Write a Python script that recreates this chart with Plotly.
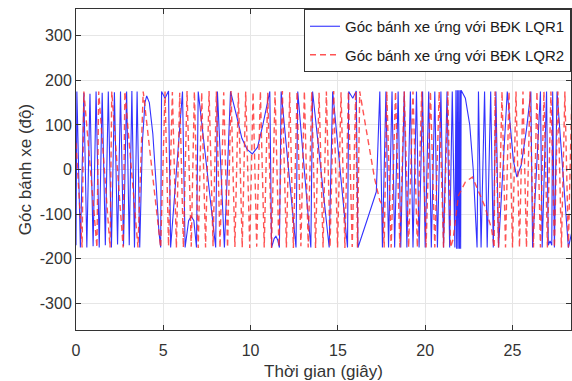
import plotly.graph_objects as go

# ---------------- data ----------------
t_lqr1 = [0.0, 0.05, 0.25, 0.45, 0.62, 0.8, 0.98, 1.15, 1.33, 1.5, 1.68, 1.85, 2.03, 2.2,
          2.38, 2.55, 2.72, 2.9, 3.05, 3.2, 3.35, 3.5, 3.65,
          3.8, 3.95, 4.05, 4.2, 4.4, 4.6, 4.75, 4.85,
          4.9, 5.1, 5.3, 5.42, 6.1, 6.25, 6.45, 6.6, 6.75, 6.9, 7.0, 8.0, 8.1, 8.5,
          8.85, 9.2, 9.5, 9.8, 10.1, 10.4, 10.7, 11.1, 11.2, 11.35, 11.45, 11.55, 11.65,
          11.75, 12.6, 12.7, 13.45, 13.55, 14.5, 14.7, 15.55, 15.62, 15.85, 16.05, 16.15,
          16.7, 17.2, 17.4, 17.55, 17.75, 17.9, 18.1, 18.25, 18.45, 18.6, 18.8, 18.95,
          19.15, 19.3, 19.5, 19.65, 19.85, 20.0, 20.2, 20.35, 20.55, 20.7, 20.9, 21.05,
          21.25, 21.4, 21.55, 21.7, 21.76, 21.8, 21.84, 21.88, 21.92, 21.96, 22.0, 22.03,
          22.06, 22.3, 22.55, 22.75, 22.9, 22.97, 23.05, 23.2, 23.4, 23.55, 23.75, 23.9,
          24.05, 24.2, 24.7, 24.9, 25.05, 25.25, 25.5, 25.8, 26.05, 26.15, 26.6, 26.7,
          26.95, 27.05, 27.15, 27.25, 27.3, 27.4, 27.55, 28.2, 28.4]
goc_lqr1 = [-170, 175, -175, 172, -175, 170, -172, 175, -175, 172, -170, 175, -175, 173,
            -168, 175, -172, 175, -170, 176, -175, 175, -175,
            60, 150, 165, 150, 80, -40, -140, -175,
            175, 160, 176, -175, 175, -175, -115, -105, -115, -175, 175, -175, 175, -175,
            175, 120, 70, 45, 35, 50, 100, 175, -175, -155, -150, -158, -175,
            175, -175, 175, -175, 175, -175, 175, -175, 175, 160, 176, -175,
            -110, -50, 175, -175, 175, -175, 175, -175, 175, -175, 175, -175,
            175, -175, 175, -175, 175, -175, 175, -175, 175, -175, 175, -175,
            175, -175, 175, -175, 178, -178, 178, -178, 178, -178, 178, -178,
            178, 160, 100, 0, -120, -175, 175, -175, 175, -175, 175, -175,
            175, -175, 175, 90, 20, -17, 10, 90, 175, -175, 175, -175,
            175, -170, -160, -170, 175, -175, 175, -175, -140]

t_lqr2 = [0.0, 0.35, 0.45, 1.2, 1.3, 1.95, 2.05, 2.7, 2.8, 3.55, 3.85, 4.85,
          5.1, 5.3, 5.52, 5.75, 5.94, 6.15, 6.36, 6.6, 6.78, 7.0, 7.2, 7.42, 7.62, 7.85,
          8.04, 8.25, 8.46, 8.68, 8.88, 9.1, 9.3, 9.52, 9.72, 9.95, 10.14, 10.35, 10.56,
          10.78, 10.98, 11.2, 11.4, 11.62, 11.82, 12.05, 12.24, 12.45, 12.66, 12.88,
          13.08, 13.3, 13.5, 13.72, 13.92, 14.15, 14.34, 14.55, 14.76, 14.98, 15.18,
          15.4, 15.6, 15.82, 16.02, 16.12, 16.25,
          16.7, 17.1, 17.4, 17.55, 17.65, 17.8, 18.05, 18.3, 18.55, 18.8, 19.05, 19.3,
          19.55, 19.8, 20.05, 20.3, 20.55, 20.8, 21.05, 21.3, 21.45,
          21.6, 21.9, 22.3, 22.7, 23.0, 23.4, 23.8, 23.95, 24.0,
          24.2, 24.4, 24.6, 24.8, 25.0, 25.2, 25.4, 25.6, 25.8, 26.0, 26.2, 26.4, 26.6,
          26.8, 27.0, 27.2, 27.4, 27.6, 27.8, 28.0, 28.2, 28.4]
goc_lqr2 = [60, -175, 175, -175, 175, -175, 175, -175, 175, -175, 175, -175,
            175, -172, 174, -176, 172, -175, 176, -173, 175, -176, 173, -175, 176, -172,
            175, -176, 173, -175, 176, -174, 172, -175, 175, -176, 174, -173, 176,
            -175, 172, -176, 175, -174, 176, -175, 173, -176, 175, -172,
            176, -175, 174, -176, 172, -175, 175, -174, 176, -175, 173,
            -176, 175, -174, 176, -175, 175,
            70, -20, -70, -80, -175, 175, -175, 175, -175, 175, -175, 175,
            -175, 175, -175, 175, -175, 175, -175, 175, -175,
            -156, -59, -28, -17, -43, -81, -133, -175, 175,
            -175, 175, -175, 175, -175, 175, -175, 175, -175, 175, -175, 175, -175,
            175, -175, 175, -175, 175, -175, 175, -175, 175]

x_ticks = [0, 5, 10, 15, 20, 25]
x_tick_text = ["0", "5", "10", "15", "20", "25"]
y_ticks = [-300, -200, -100, 0, 100, 200, 300]
y_tick_text = ["-300", "-200", "-100", "0", "100", "200", "300"]

name1 = "Góc bánh xe ứng với BĐK LQR1"
name2 = "Góc bánh xe ứng với BĐK LQR2"

# ---------------- figure ----------------
fig = go.Figure()
fig.add_trace(go.Scatter(x=t_lqr1, y=goc_lqr1, mode="lines", name=name1, legendgroup="a",
                         line=dict(color="rgb(50,50,255)", width=1.1)))
fig.add_trace(go.Scatter(x=t_lqr2, y=goc_lqr2, mode="lines", name=name2, legendgroup="b",
                         line=dict(color="rgba(255,40,40,0.8)", width=1.4, dash="6px,4px")))

axis_common = dict(showgrid=True, gridcolor="#e6e6e6", gridwidth=1, automargin=False,
                   showline=True, linecolor="#333333", linewidth=1, mirror="ticks",
                   ticks="inside", ticklen=5, tickcolor="#333333", zeroline=False,
                   tickfont=dict(size=16, color="#333333"))

fig.update_layout(
    width=572, height=381,
    margin=dict(l=76, r=1, t=9, b=51, autoexpand=False),
    paper_bgcolor="white", plot_bgcolor="white",
    font=dict(family="Liberation Sans, Arial, sans-serif", color="#333333"),
    showlegend=True,
    legend=dict(x=1, y=1, xanchor="right", yanchor="top", itemwidth=30,
                bgcolor="white", bordercolor="#333333", borderwidth=1,
                font=dict(size=15, color="#1a1a1a"), tracegroupgap=6),
    xaxis=dict(range=[0, 28.35], tickvals=x_ticks, ticktext=x_tick_text,
               ticklabelstandoff=6,
               title=dict(text="Thời gian (giây)", font=dict(size=17), standoff=7),
               **axis_common),
    yaxis=dict(range=[-360, 360], tickvals=y_ticks, ticktext=y_tick_text,
               title=dict(text="Góc bánh xe (độ)", font=dict(size=17), standoff=3),
               **axis_common),
)

fig.write_html(
    "out.html",
    config={"displayModeBar": False},
    post_script="document.body.style.margin='0';document.body.style.padding='0';"
                "document.body.style.overflow='hidden';",
)
